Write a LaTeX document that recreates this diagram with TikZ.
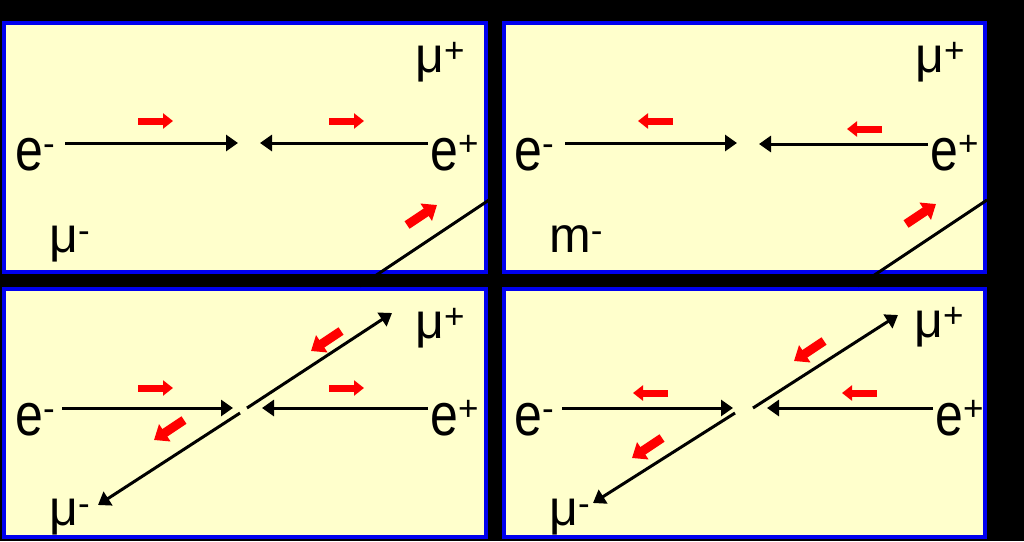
\documentclass[tikz,border=0pt]{standalone}
\usepackage{fontspec}
\setmainfont{Liberation Sans}
\usetikzlibrary{arrows.meta}
\definecolor{PanelYellow}{RGB}{255,255,204}
\definecolor{PanelBlue}{RGB}{0,0,240}
\definecolor{SpinRed}{RGB}{255,0,0}
\newcommand{\electron}[1]{\scalebox{1}[1.2]{e}\raisebox{5pt}{\textsuperscript{#1}}}

\begin{document}
\begin{tikzpicture}[
    x=1pt,
    y=1pt,
    font=\fontsize{50}{50}\selectfont,
    panel/.style={
        draw=PanelBlue,
        line width=4pt,
        fill=PanelYellow,
        minimum height=249pt
    },
    particle/.style={
        anchor=base west,
        inner sep=0pt
    },
    beam/.style={
        line width=3pt,
        -{Triangle[length=12pt,width=16pt]}
    },
    track/.style={
        line width=3pt
    },
    spin/.style={
        draw=SpinRed,
        line width=7pt,
        -{Triangle[length=10pt,width=15pt]}
    },
    tiltspin/.style={
        draw=SpinRed,
        line width=9pt,
        -{Triangle[length=13pt,width=20pt]}
    }
]

% background
\path[fill=black, use as bounding box] (0,0) rectangle (1024,-541);

% panels
\node[panel, minimum width=482pt] (tl) at (245,-147.5) {};
\node[panel, minimum width=481pt] (tr) at (744.5,-147.5) {};
\node[panel, minimum width=482pt, minimum height=248pt] (bl) at (245,-413) {};
\node[panel, minimum width=481pt, minimum height=248pt] (br) at (744.5,-413) {};

% top left
\node[particle] (tlem) at (15,-170) {\electron{-}};
\node[particle] (tlep) at (430,-170) {\electron{+}};
\node[particle] (tlmp) at (415,-72) {μ\textsuperscript{+}};
\node[particle] (tlmm) at (49,-252) {μ\textsuperscript{-}};

\coordinate (tlA) at (65,-143);
\coordinate (tlB) at (238,-143);
\coordinate (tlC) at (428,-143);
\coordinate (tlD) at (260,-143);
\coordinate (tlE) at (360,-286);
\coordinate (tlF) at (489,-200);

\draw[beam] (tlA) -- (tlB);
\draw[beam] (tlC) -- (tlD);
\draw[track] (tlE) -- (tlF);

\draw[spin] (138,-121) -- ++(35,0);
\draw[spin] (329,-121) -- ++(35,0);
\draw[tiltspin] (407,-225) -- ++(30,20);

% top right
\node[particle] (trem) at (514,-170) {\electron{-}};
\node[particle] (trep) at (930,-170) {\electron{+}};
\node[particle] (trmp) at (915,-72) {μ\textsuperscript{+}};
\node[particle] (trmm) at (549,-252) {m\textsuperscript{-}};

\coordinate (trA) at (565,-143);
\coordinate (trB) at (737,-143);
\coordinate (trC) at (928,-144);
\coordinate (trD) at (759,-144);
\coordinate (trE) at (858,-286);
\coordinate (trF) at (987,-200);

\draw[beam] (trA) -- (trB);
\draw[beam] (trC) -- (trD);
\draw[track] (trE) -- (trF);

\draw[spin] (673,-121) -- ++(-35,0);
\draw[spin] (882,-129) -- ++(-35,0);
\draw[tiltspin] (906,-224) -- ++(30,20);

% bottom left
\node[particle] (blem) at (15,-435) {\electron{-}};
\node[particle] (blep) at (430,-435) {\electron{+}};
\node[particle] (blmp) at (415,-338) {μ\textsuperscript{+}};
\node[particle] (blmm) at (49,-525) {μ\textsuperscript{-}};

\coordinate (blA) at (62,-408);
\coordinate (blB) at (233,-408);
\coordinate (blC) at (428,-408);
\coordinate (blD) at (262,-408);
\coordinate (blE) at (247,-408);
\coordinate (blF) at (392,-313);
\coordinate (blG) at (240,-413);
\coordinate (blH) at (98,-505);

\draw[beam] (blA) -- (blB);
\draw[beam] (blC) -- (blD);
\draw[beam] (blE) -- (blF);
\draw[beam] (blG) -- (blH);

\draw[spin] (138,-388) -- ++(35,0);
\draw[spin] (329,-388) -- ++(35,0);
\draw[tiltspin] (341,-331) -- ++(-30,-20);
\draw[tiltspin] (184,-420) -- ++(-30,-20);

% bottom right
\node[particle] (brem) at (514,-435) {\electron{-}};
\node[particle] (brep) at (935,-435) {\electron{+}};
\node[particle] (brmp) at (914,-337) {μ\textsuperscript{+}};
\node[particle] (brmm) at (549,-525) {μ\textsuperscript{-}};

\coordinate (brA) at (562,-408);
\coordinate (brB) at (733,-408);
\coordinate (brC) at (933,-408);
\coordinate (brD) at (767,-408);
\coordinate (brE) at (753,-408);
\coordinate (brF) at (898,-315);
\coordinate (brG) at (735,-413);
\coordinate (brH) at (593,-503);

\draw[beam] (brA) -- (brB);
\draw[beam] (brC) -- (brD);
\draw[beam] (brE) -- (brF);
\draw[beam] (brG) -- (brH);

\draw[spin] (668,-393) -- ++(-35,0);
\draw[spin] (877,-393) -- ++(-35,0);
\draw[tiltspin] (824,-341) -- ++(-30,-20);
\draw[tiltspin] (662,-438) -- ++(-30,-20);

\end{tikzpicture}
\end{document}
